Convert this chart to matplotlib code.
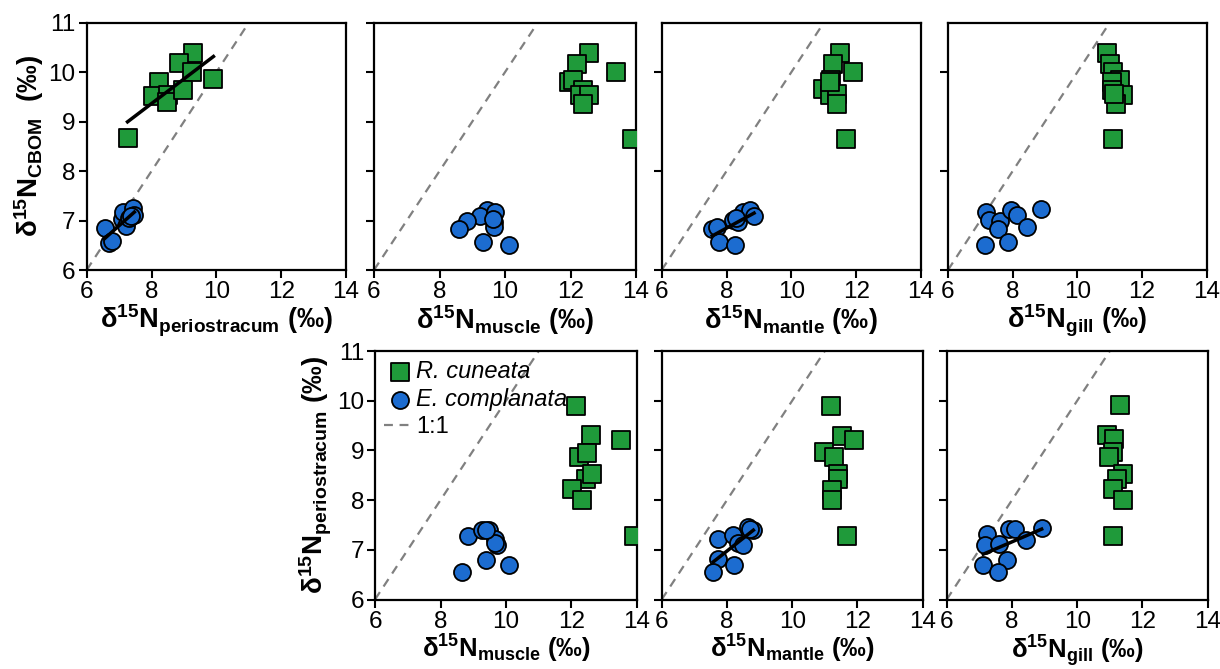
import numpy as np
import matplotlib
matplotlib.use("Agg")
import matplotlib.pyplot as plt

plt.rcParams["font.family"] = ["Liberation Sans", "DejaVu Sans"]
plt.rcParams["mathtext.fontset"] = "custom"
plt.rcParams["mathtext.rm"] = "Liberation Sans"
plt.rcParams["mathtext.it"] = "Liberation Sans:italic"
plt.rcParams["mathtext.bf"] = "Liberation Sans:bold"

green = "#1f9a3a"
blue = "#1c6cd0"

# ---- top row: tissue vs CBOM ----
peri_cbom_rc_x = [9.29, 8.86, 9.24, 8.24, 9.91, 8.04, 8.52, 8.47, 8.96, 7.26]
peri_cbom_rc_y = [10.39, 10.18, 10.01, 9.81, 9.87, 9.52, 9.54, 9.40, 9.64, 8.67]
peri_cbom_ec_x = [6.55, 6.70, 6.78, 7.08, 7.13, 7.22, 7.32, 7.44, 7.47, 7.38]
peri_cbom_ec_y = [6.85, 6.54, 6.59, 7.03, 7.18, 6.88, 7.05, 7.25, 7.12, 7.10]

musc_cbom_rc_x = [12.58, 12.19, 13.39, 11.96, 12.09, 12.37, 12.29, 12.58, 12.37, 13.87]
musc_cbom_rc_y = [10.39, 10.16, 10.01, 9.80, 9.85, 9.64, 9.53, 9.53, 9.36, 8.64]
musc_cbom_ec_x = [9.44, 9.24, 9.69, 8.85, 8.60, 9.67, 9.67, 9.34, 10.12, 9.64]
musc_cbom_ec_y = [7.22, 7.10, 7.17, 7.00, 6.82, 6.97, 6.86, 6.56, 6.51, 7.03]

mant_cbom_rc_x = [11.50, 11.30, 11.91, 11.22, 10.99, 11.19, 11.40, 11.40, 11.19, 11.69]
mant_cbom_rc_y = [10.39, 10.16, 10.01, 9.85, 9.65, 9.53, 9.55, 9.36, 9.80, 8.64]
mant_cbom_ec_x = [7.56, 7.71, 8.19, 8.36, 8.52, 8.72, 8.85, 7.78, 8.26, 8.30]
mant_cbom_ec_y = [6.82, 6.86, 7.01, 6.97, 7.17, 7.22, 7.10, 6.56, 6.51, 7.05]

gill_cbom_rc_x = [10.93, 11.01, 11.11, 11.31, 11.06, 11.06, 11.40, 11.21, 11.11, 11.13]
gill_cbom_rc_y = [10.39, 10.16, 10.01, 9.84, 9.80, 9.64, 9.53, 9.36, 8.64, 9.55]
gill_cbom_ec_x = [7.17, 7.27, 7.60, 7.55, 7.94, 8.12, 8.43, 7.84, 7.14, 8.89]
gill_cbom_ec_y = [7.17, 7.01, 6.99, 6.82, 7.22, 7.11, 6.86, 6.56, 6.51, 7.24]

# ---- bottom row: tissue vs periostracum ----
musc_peri_rc_x = [12.13, 12.61, 13.50, 12.23, 12.47, 12.43, 12.63, 12.01, 12.33, 13.92]
musc_peri_rc_y = [9.90, 9.30, 9.21, 8.86, 8.95, 8.43, 8.53, 8.22, 8.01, 7.28]
musc_peri_ec_x = [8.85, 9.26, 9.49, 9.66, 9.71, 9.66, 9.39, 10.10, 8.65, 9.40]
musc_peri_ec_y = [7.28, 7.40, 7.40, 7.21, 7.09, 7.13, 6.79, 6.69, 6.55, 7.39]

mant_peri_rc_x = [11.19, 11.52, 11.88, 10.98, 11.28, 11.39, 11.39, 11.21, 11.21, 11.68]
mant_peri_rc_y = [9.90, 9.28, 9.21, 8.96, 8.86, 8.53, 8.43, 8.21, 8.01, 7.28]
mant_peri_ec_x = [7.74, 8.18, 8.66, 8.81, 8.35, 8.50, 7.74, 7.58, 8.23, 8.72]
mant_peri_ec_y = [7.21, 7.29, 7.45, 7.40, 7.13, 7.10, 6.81, 6.56, 6.69, 7.41]

gill_peri_rc_x = [11.31, 10.92, 11.13, 11.09, 10.98, 11.41, 11.21, 11.09, 11.41, 11.09]
gill_peri_rc_y = [9.92, 9.30, 9.23, 8.96, 8.87, 8.53, 8.43, 8.23, 8.01, 7.28]
gill_peri_ec_x = [7.25, 7.17, 7.61, 7.92, 8.09, 8.43, 8.91, 7.86, 7.12, 7.56]
gill_peri_ec_y = [7.31, 7.10, 7.11, 7.41, 7.41, 7.20, 7.44, 6.79, 6.69, 6.55]

x_ticks = [6, 8, 10, 12, 14]
xlab_peri = r"$\mathbf{δ^{15}N_{periostracum}}$ (‰)"
xlab_musc = r"$\mathbf{δ^{15}N_{muscle}}$ (‰)"
xlab_mant = r"$\mathbf{δ^{15}N_{mantle}}$ (‰)"
xlab_gill = r"$\mathbf{δ^{15}N_{gill}}$ (‰)"
ylab_cbom = r"$\mathbf{δ^{15}N_{CBOM}}$  (‰)"
ylab_peri = r"$\mathbf{δ^{15}N_{periostracum}}$ (‰)"

fig = plt.figure(figsize=(12.2, 6.69), dpi=100)

W, H = 1220.0, 669.0


def make_ax(left, top, right, bottom):
    return fig.add_axes([left / W, 1 - bottom / H, (right - left) / W, (bottom - top) / H])


def style(ax, xlabel, ylabel=None, ystep=1, xsize=19.5):
    ax.set_xlim(6, 14)
    ax.set_ylim(6, 11)
    ax.set_xticks(x_ticks)
    ax.set_yticks(np.arange(6, 11.01, ystep))
    ax.tick_params(direction="out", length=6, width=1.5, labelsize=17.5, pad=2,
                   top=False, right=False)
    for s in ax.spines.values():
        s.set_linewidth(1.6)
    ax.set_xlabel(xlabel, fontsize=xsize, fontweight="bold", labelpad=0)
    if ylabel:
        ax.set_ylabel(ylabel, fontsize=20, fontweight="bold", labelpad=2)
    else:
        ax.set_yticklabels([])
    ax.axline((6, 6), slope=1, color="#808080", lw=1.6, ls=(0, (4, 3)), zorder=1, label="1:1")


def points(ax, rx, ry, ex, ey):
    ax.scatter(rx, ry, marker="s", s=150, color=green, edgecolor="black", linewidth=1.3,
               zorder=3, label="R. cuneata")
    ax.scatter(ex, ey, marker="o", s=150, color=blue, edgecolor="black", linewidth=1.3,
               zorder=3, label="E. complanata")


def trend(ax, x, y):
    coef = np.polyfit(x, y, 1)
    xs = np.array([min(x), max(x)])
    ax.plot(xs, np.polyval(coef, xs), color="black", lw=2.5, zorder=4)


# top row
ax1 = make_ax(86.7, 22.7, 346, 270)
points(ax1, peri_cbom_rc_x, peri_cbom_rc_y, peri_cbom_ec_x, peri_cbom_ec_y)
trend(ax1, peri_cbom_rc_x, peri_cbom_rc_y)
trend(ax1, peri_cbom_ec_x, peri_cbom_ec_y)
style(ax1, xlab_peri, ylab_cbom)

ax2 = make_ax(374, 22.7, 636, 270)
points(ax2, musc_cbom_rc_x, musc_cbom_rc_y, musc_cbom_ec_x, musc_cbom_ec_y)
style(ax2, xlab_musc)

ax3 = make_ax(661.7, 22.7, 921, 270)
points(ax3, mant_cbom_rc_x, mant_cbom_rc_y, mant_cbom_ec_x, mant_cbom_ec_y)
trend(ax3, mant_cbom_ec_x, mant_cbom_ec_y)
style(ax3, xlab_mant, ystep=2)

ax4 = make_ax(948, 22.7, 1206.7, 270)
points(ax4, gill_cbom_rc_x, gill_cbom_rc_y, gill_cbom_ec_x, gill_cbom_ec_y)
style(ax4, xlab_gill, ystep=2)

# bottom row
ax5 = make_ax(375, 351, 637, 599.5)
points(ax5, musc_peri_rc_x, musc_peri_rc_y, musc_peri_ec_x, musc_peri_ec_y)
style(ax5, xlab_musc, ylab_peri, xsize=18.5)
leg = ax5.legend(loc="upper left", frameon=False, fontsize=17, handletextpad=0.05,
                 handlelength=1.3, labelspacing=0.2, borderaxespad=0.2, borderpad=0.2)
for t in leg.get_texts()[:2]:
    t.set_style("italic")

ax6 = make_ax(661.7, 351, 922.7, 599.5)
points(ax6, mant_peri_rc_x, mant_peri_rc_y, mant_peri_ec_x, mant_peri_ec_y)
trend(ax6, mant_peri_ec_x, mant_peri_ec_y)
style(ax6, xlab_mant, xsize=18.5)

ax7 = make_ax(946.7, 351, 1207.7, 599.5)
points(ax7, gill_peri_rc_x, gill_peri_rc_y, gill_peri_ec_x, gill_peri_ec_y)
trend(ax7, gill_peri_ec_x, gill_peri_ec_y)
style(ax7, xlab_gill, xsize=18.5)

fig.savefig("out.png", dpi=100)
